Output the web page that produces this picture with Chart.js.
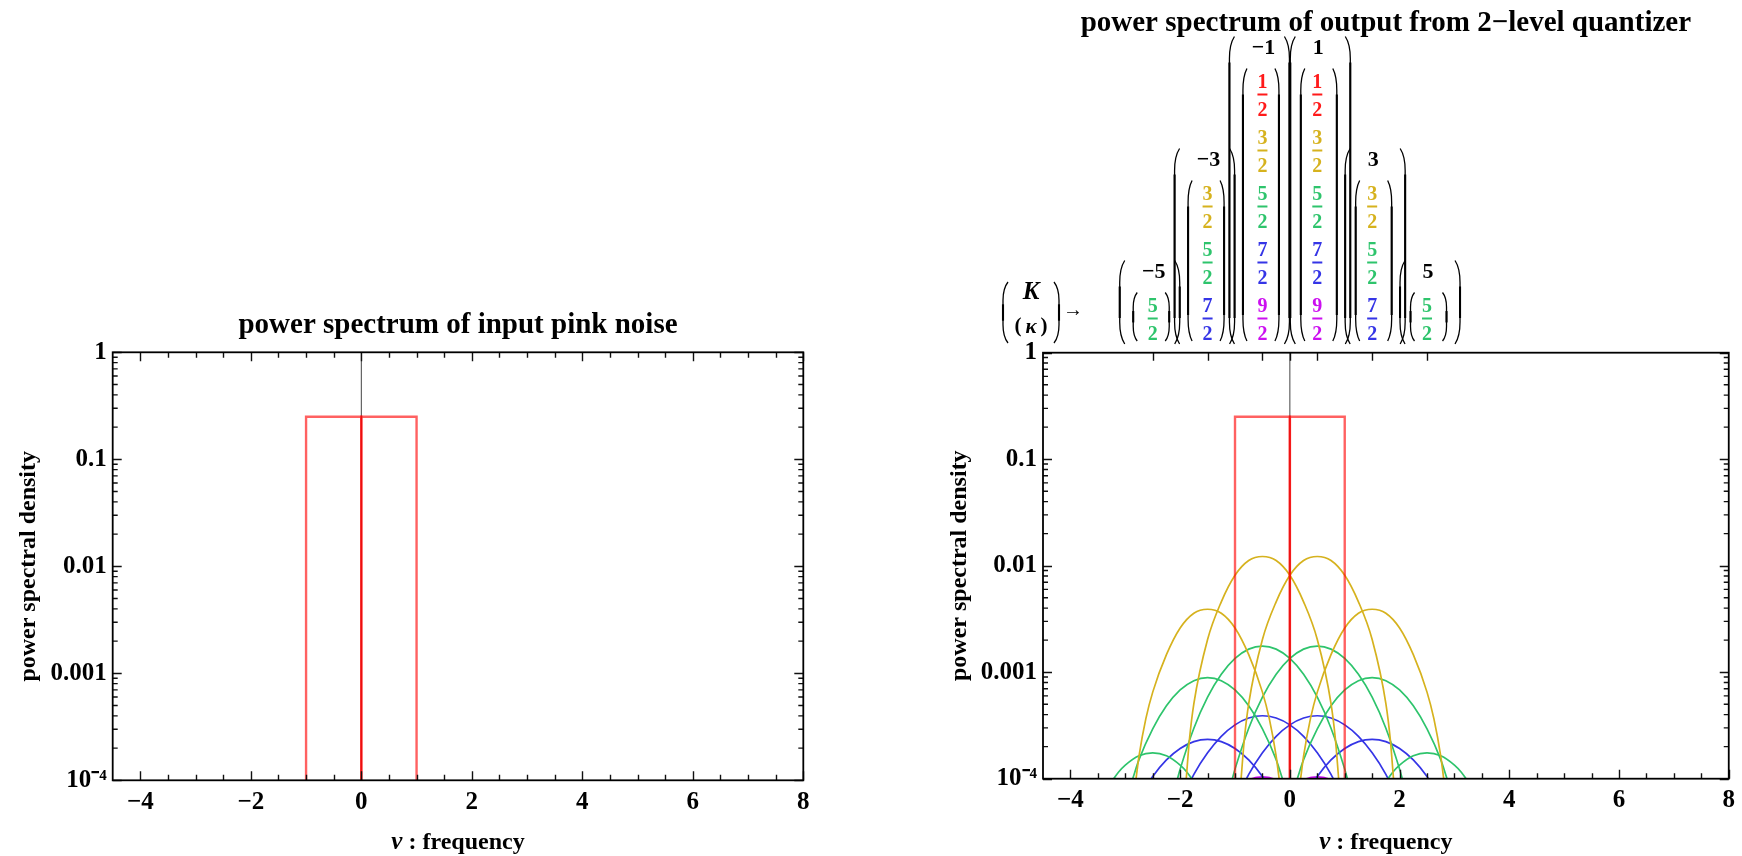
<!DOCTYPE html>
<html><head><meta charset="utf-8">
<script src="https://cdn.jsdelivr.net/npm/chart.js@4/dist/chart.umd.min.js"></script>
<style>
html,body{margin:0;padding:0;background:#fff;}
#wrap{position:relative;width:1742px;height:856px;overflow:hidden;}
canvas{position:absolute;top:0;}
</style></head><body>
<div id="wrap">
<canvas id="c1" width="871" height="856" style="left:0;width:871px;height:856px"></canvas>
<canvas id="c2" width="871" height="856" style="left:871px;width:871px;height:856px"></canvas>
</div>
<script>
// ---------- tick labels ----------
const xTickValues = [-4, -2, 0, 2, 4, 6, 8];
const xTickLabels = ['\u22124', '\u22122', '0', '2', '4', '6', '8'];
const yTickValues = [0.0001, 0.001, 0.01, 0.1, 1];
const yTickLabels = ['10\u207B\u2074', '0.001', '0.01', '0.1', '1'];
const topTickValues = [-2.5, -1.5, -0.5, 0, 0.5, 1.5, 2.5];
const legendK = [-5, -3, -1, 1, 3, 5];
const legendKappa = [['5/2'], ['3/2','5/2','7/2'], ['1/2','3/2','5/2','7/2','9/2'], ['1/2','3/2','5/2','7/2','9/2'], ['3/2','5/2','7/2'], ['5/2']];

// ---------- series ----------
const zeroAxisX = [0, 0];
const zeroAxisY = [0.0001, 1];
const pinkLowX = [-1, -1, 0, 0];
const pinkLowY = [0.0001, 0.25, 0.25, 0.0001];
const pinkHighX = [0, 0, 1, 1];
const pinkHighY = [0.0001, 0.25, 0.25, 0.0001];

const yellowKm1X = [-1.889,-1.83,-1.75,-1.5,-1.25,-1,-0.75,-0.5,-0.25,0,0.25,0.5,0.75,0.83,0.889];
const yellowKp1X = [-0.889,-0.83,-0.75,-0.5,-0.25,0,0.25,0.5,0.75,1,1.25,1.5,1.75,1.83,1.889];
const yellowK1Y = [0.0001,0.000235,0.000508,0.00203,0.00458,0.00813,0.01118,0.0122,0.01118,0.00813,0.00458,0.00203,0.000508,0.000235,0.0001];
const yellowKm3X = [-2.804,-2.75,-2.625,-2.5,-2.25,-2,-1.75,-1.5,-1.25,-1,-0.75,-0.5,-0.375,-0.25,-0.196];
const yellowKp3X = [0.196,0.25,0.375,0.5,0.75,1,1.25,1.5,1.75,2,2.25,2.5,2.625,2.75,2.804];
const yellowK3Y = [0.0001,0.000163,0.000366,0.00065,0.00146,0.0026,0.00358,0.0039,0.00358,0.0026,0.00146,0.00065,0.000366,0.000163,0.0001];

const greenKm1X = [-2.049,-2,-1.75,-1.5,-1.25,-1,-0.75,-0.5,-0.25,0,0.25,0.5,0.75,1,1.049];
const greenKp1X = [-1.049,-1,-0.75,-0.5,-0.25,0,0.25,0.5,0.75,1,1.25,1.5,1.75,2,2.049];
const greenK1Y = [0.0001,0.000123,0.000298,0.000582,0.000955,0.001346,0.001647,0.00176,0.001647,0.001346,0.000955,0.000582,0.000298,0.000123,0.0001];
const greenKm3X = [-2.865,-2.75,-2.5,-2.25,-2,-1.75,-1.5,-1.25,-1,-0.75,-0.5,-0.25,-0.135];
const greenKp3X = [0.135,0.25,0.5,0.75,1,1.25,1.5,1.75,2,2.25,2.5,2.75,2.865];
const greenK3Y = [0.0001,0.000151,0.000294,0.000483,0.000681,0.000833,0.00089,0.000833,0.000681,0.000483,0.000294,0.000151,0.0001];
const greenKm5X = [-3.212,-3.125,-3,-2.75,-2.5,-2.25,-2,-1.875,-1.788];
const greenKp5X = [1.788,1.875,2,2.25,2.5,2.75,3,3.125,3.212];
const greenK5Y = [0.0001,0.000115,0.000134,0.000164,0.000175,0.000164,0.000134,0.000115,0.0001];

const blueKm1X = [-1.79,-1.75,-1.5,-1.25,-1,-0.75,-0.5,-0.25,0,0.25,0.5,0.75,0.79];
const blueKp1X = [-0.79,-0.75,-0.5,-0.25,0,0.25,0.5,0.75,1,1.25,1.5,1.75,1.79];
const blueK1Y = [0.0001,0.00011,0.000175,0.00025,0.00032,0.000371,0.00039,0.000371,0.00032,0.00025,0.000175,0.00011,0.0001];
const blueKm3X = [-2.526,-2.5,-2.25,-2,-1.75,-1.5,-1.25,-1,-0.75,-0.5,-0.474];
const blueKp3X = [0.474,0.5,0.75,1,1.25,1.5,1.75,2,2.25,2.5,2.526];
const blueK3Y = [0.0001,0.000105,0.00015,0.000192,0.000223,0.000234,0.000223,0.000192,0.00015,0.000105,0.0001];

const magentaKm1X = [-0.7,-0.6,-0.5,-0.4,-0.3];
const magentaKp1X = [0.3,0.4,0.5,0.6,0.7];
const magentaK1Y = [0.0001,0.000103,0.000104,0.000103,0.0001];

// ---------- styling ----------
const FONT = '"Liberation Serif", "Times New Roman", serif';
const RED = 'rgba(255,0,0,0.62)';
const YELLOW = '#D6B21E', GREEN = '#2EC46C', BLUE = '#3535E6', MAGENTA = '#CC10F0';
const kappaColor = {'1/2':'#FF1A1A','3/2':YELLOW,'5/2':GREEN,'7/2':BLUE,'9/2':MAGENTA};

function pts(xs, ys) { return xs.map((x, i) => ({x: x, y: ys[i]})); }
function curve(xs, ys, color) {
  return {data: pts(xs, ys), borderColor: color, borderWidth: 1.7, cubicInterpolationMode: 'monotone', pointRadius: 0, fill: false};
}
function straight(xs, ys, color, w) {
  return {data: pts(xs, ys), borderColor: color, borderWidth: w, tension: 0, pointRadius: 0, fill: false};
}

function tickPath(ctx, x1, y1, x2, y2) { ctx.moveTo(x1, y1); ctx.lineTo(x2, y2); }

const framePlugin = {
  id: 'frame',
  afterDraw(chart, args, o) {
    const ctx = chart.ctx, a = chart.chartArea, xs = chart.scales.x, ys = chart.scales.y;
    ctx.save();
    ctx.strokeStyle = '#111';
    ctx.lineWidth = 1.4;
    ctx.beginPath();
    for (let i = 0; i <= 24; i++) {
      const v = -4 + i * 0.5;
      const px = Math.round(xs.getPixelForValue(v)) + 0.5;
      const L = (v % 2 === 0) ? 9 : 5.5;
      tickPath(ctx, px, a.bottom, px, a.bottom - L);
      if (!o.customTop) tickPath(ctx, px, a.top, px, a.top + L);
    }
    if (o.customTop) {
      topTickValues.forEach(v => {
        const px = Math.round(xs.getPixelForValue(v)) + 0.5;
        tickPath(ctx, px, a.top, px, a.top + 8);
      });
    }
    for (let d = -4; d <= 0; d++) {
      const py = Math.round(ys.getPixelForValue(Math.pow(10, d))) + 0.5;
      tickPath(ctx, a.left, py, a.left + 9, py);
      tickPath(ctx, a.right, py, a.right - 9, py);
      if (d < 0) {
        for (let m = 2; m <= 9; m++) {
          const q = ys.getPixelForValue(m * Math.pow(10, d));
          tickPath(ctx, a.left, q, a.left + 5, q);
          tickPath(ctx, a.right, q, a.right - 5, q);
        }
      }
    }
    ctx.stroke();
    ctx.lineWidth = 1.8;
    ctx.strokeStyle = '#000';
    ctx.strokeRect(a.left, a.top, a.right - a.left, a.bottom - a.top);
    // x-axis label: italic nu + bold text
    const cx = (a.left + a.right) / 2, cy = 843;
    ctx.fillStyle = '#000';
    ctx.textBaseline = 'middle';
    ctx.textAlign = 'left';
    const f1 = 'italic bold 25px ' + FONT, f2 = 'bold 24px ' + FONT;
    ctx.font = f1; const w1 = ctx.measureText('\u03BD').width;
    ctx.font = f2; const w2 = ctx.measureText(' : frequency').width;
    const x0 = cx - (w1 + w2) / 2;
    ctx.font = f1; ctx.fillText('\u03BD', x0, cy);
    ctx.font = f2; ctx.fillText(' : frequency', x0 + w1, cy);
    ctx.restore();
  }
};

function paren(ctx, x, top, bottom, dir, w) {
  // dir = -1 : "(" ; dir = +1 : ")"
  const h = bottom - top;
  const e = Math.min(22, h * 0.3);
  ctx.lineWidth = 1.3;
  ctx.beginPath();
  ctx.moveTo(x - dir * w, top);
  ctx.quadraticCurveTo(x, top + e * 0.35, x, top + e);
  ctx.lineTo(x, bottom - e);
  ctx.quadraticCurveTo(x, bottom - e * 0.35, x - dir * w, bottom);
  ctx.stroke();
  ctx.lineWidth = 2.1;
  ctx.beginPath();
  ctx.moveTo(x, top + e + 4);
  ctx.lineTo(x, bottom - e - 4);
  ctx.stroke();
}

function fraction(ctx, cx, barY, txt, color) {
  const p = txt.split('/');
  ctx.fillStyle = color;
  ctx.font = 'bold 20px ' + FONT;
  ctx.textAlign = 'center';
  ctx.textBaseline = 'alphabetic';
  ctx.fillText(p[0], cx, barY - 7);
  ctx.fillRect(cx - 5, barY - 1, 10, 2);
  ctx.fillText(p[1], cx, barY + 21);
}

const legendPlugin = {
  id: 'kappaLegend',
  afterDraw(chart) {
    const ctx = chart.ctx, a = chart.chartArea, xs = chart.scales.x;
    ctx.save();
    ctx.strokeStyle = '#000';
    const bottomRow = 318.5, pitch = 56;
    legendK.forEach((K, j) => {
      const kap = legendKappa[j];
      const n = kap.length;
      const cx = xs.getPixelForValue(K / 2);
      const bars = kap.map((k, i) => bottomRow - (n - 1 - i) * pitch);
      const ky = bars[0] - 46;
      ctx.fillStyle = '#000';
      ctx.font = 'bold 22px ' + FONT;
      ctx.textAlign = 'center';
      ctx.textBaseline = 'middle';
      ctx.fillText(K < 0 ? '\u2212' + Math.abs(K) : String(K), cx + 1, ky);
      kap.forEach((k, i) => fraction(ctx, cx, bars[i], k, kappaColor[k]));
      const s = K < 0 ? -3 : 3;
      paren(ctx, cx - 18 + s * 0.5, bars[0] - 26, 341, -1, 4);
      paren(ctx, cx + 18 + s * 0.5, bars[0] - 26, 341, 1, 4);
      paren(ctx, cx - 30 + s, ky - 12, 344, -1, 5);
      paren(ctx, cx + 30 + s, ky - 12, 344, 1, 5);
    });
    // head:  (K ; (kappa)) ->
    const hx = a.left - 12;
    paren(ctx, hx - 28, 282, 343, -1, 5);
    paren(ctx, hx + 28, 282, 343, 1, 5);
    ctx.fillStyle = '#000';
    ctx.textAlign = 'center';
    ctx.textBaseline = 'middle';
    ctx.font = 'italic bold 25px ' + FONT;
    ctx.fillText('K', hx, 293);
    ctx.font = 'italic bold 21px ' + FONT;
    ctx.fillText('\u03BA', hx, 328);
    ctx.font = 'bold 21px ' + FONT;
    ctx.fillText('(', hx - 13, 327);
    ctx.fillText(')', hx + 13, 327);
    ctx.font = 'bold 20px ' + FONT;
    ctx.fillText('\u2192', hx + 42, 311);
    ctx.restore();
  }
};

function makeChart(id, cfg) {
  const tickFont = {family: FONT, size: 25, weight: 'bold'};
  // datasets are drawn last-to-first: red first (on top), zero axis last (bottom)
  const datasets = [
    straight(pinkHighX, pinkHighY, RED, 2.4),
    straight(pinkLowX, pinkLowY, RED, 2.4)
  ].concat(cfg.curves).concat([straight(zeroAxisX, zeroAxisY, '#444', 1)]);
  return new Chart(document.getElementById(id), {
    type: 'line',
    data: {datasets: datasets},
    options: {
      responsive: false,
      animation: false,
      devicePixelRatio: 1,
      layout: {padding: cfg.padding},
      plugins: {
        legend: {display: false},
        tooltip: {enabled: false},
        frame: {customTop: cfg.customTop},
        title: {display: true, text: cfg.title, color: '#000', fullSize: false,
          font: {family: FONT, size: 29, weight: 'bold', lineHeight: 1.1},
          padding: {top: 0, bottom: cfg.titleGap}}
      },
      scales: {
        x: {
          type: 'linear', min: -4.5, max: 8,
          afterBuildTicks(s) { s.ticks = xTickValues.map(v => ({value: v})); },
          afterFit(s) { s.height = cfg.xAxisH; },
          ticks: {callback: (v, i) => xTickLabels[i], color: '#000', font: tickFont, padding: 7, maxRotation: 0, autoSkip: false},
          grid: {display: false, drawTicks: false},
          border: {display: false},
          title: {display: false}
        },
        y: {
          type: 'logarithmic', min: 0.0001, max: 1,
          afterBuildTicks(s) { s.ticks = yTickValues.map(v => ({value: v})); },
          afterFit(s) { s.width = cfg.yAxisW; },
          ticks: {callback: (v, i) => yTickLabels[i], color: '#000', font: tickFont, padding: 6, autoSkip: false},
          grid: {display: false, drawTicks: false},
          border: {display: false},
          title: {display: true, text: 'power spectral density', color: '#000',
            font: {family: FONT, size: 24, weight: 'bold', lineHeight: 1}, padding: {top: 17, bottom: 0}}
        }
      }
    },
    plugins: cfg.extraPlugins.concat([framePlugin])
  });
}

makeChart('c1', {
  title: 'power spectrum of input pink noise',
  padding: {left: 0, right: 67.7, top: 309.8, bottom: 0},
  titleGap: 10.6,
  xAxisH: 75.7,
  yAxisW: 112.7,
  customTop: false,
  curves: [],
  extraPlugins: []
});

makeChart('c2', {
  title: 'power spectrum of output from 2\u2212level quantizer',
  padding: {left: 59.3, right: 8, top: 7.4, bottom: 0},
  titleGap: 313.4,
  xAxisH: 77.3,
  yAxisW: 112.7,
  customTop: true,
  curves: [
    curve(yellowKm1X, yellowK1Y, YELLOW),
    curve(yellowKp1X, yellowK1Y, YELLOW),
    curve(yellowKm3X, yellowK3Y, YELLOW),
    curve(yellowKp3X, yellowK3Y, YELLOW),
    curve(greenKm1X, greenK1Y, GREEN),
    curve(greenKp1X, greenK1Y, GREEN),
    curve(greenKm3X, greenK3Y, GREEN),
    curve(greenKp3X, greenK3Y, GREEN),
    curve(greenKm5X, greenK5Y, GREEN),
    curve(greenKp5X, greenK5Y, GREEN),
    curve(blueKm1X, blueK1Y, BLUE),
    curve(blueKp1X, blueK1Y, BLUE),
    curve(blueKm3X, blueK3Y, BLUE),
    curve(blueKp3X, blueK3Y, BLUE),
    curve(magentaKm1X, magentaK1Y, MAGENTA),
    curve(magentaKp1X, magentaK1Y, MAGENTA)
  ],
  extraPlugins: [legendPlugin]
});
</script>
</body></html>
